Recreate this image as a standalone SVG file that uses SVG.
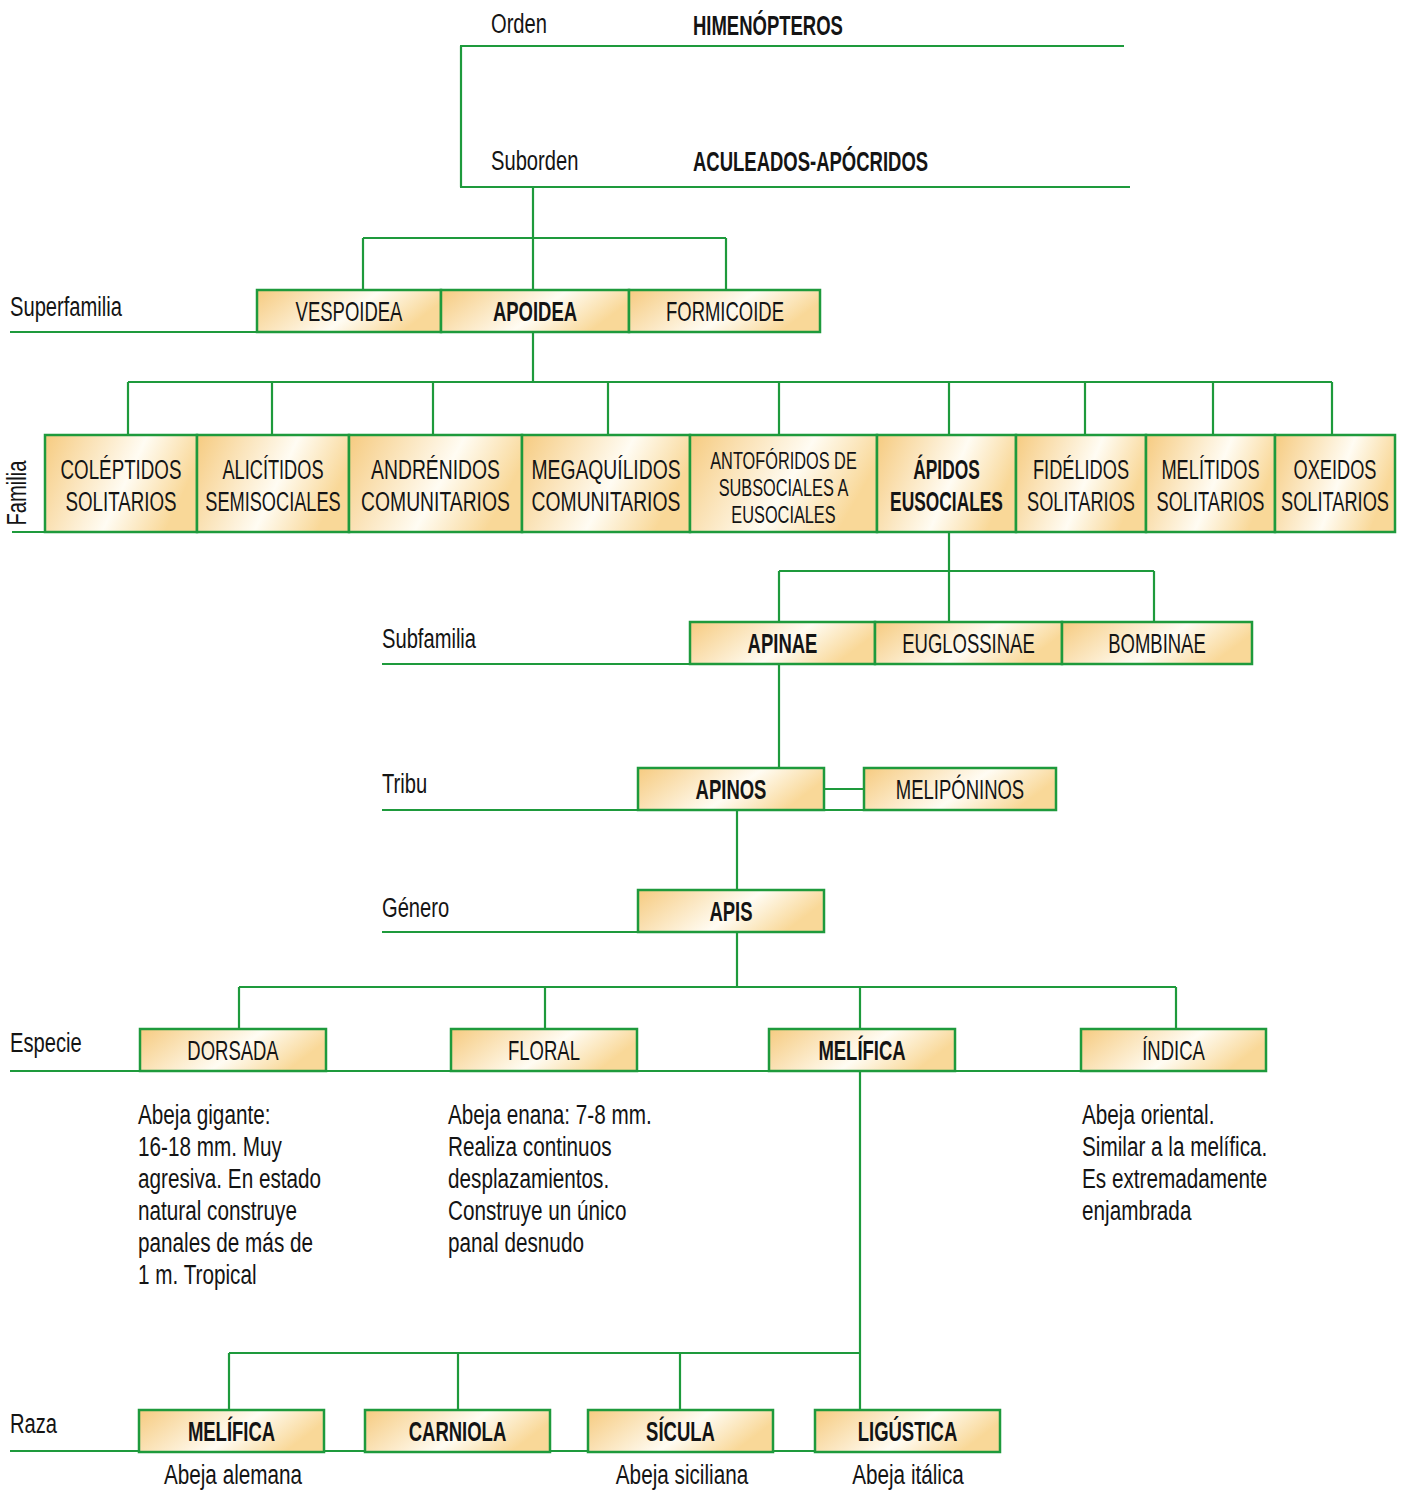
<svg xmlns="http://www.w3.org/2000/svg" width="1401" height="1500" viewBox="0 0 1401 1500">
<defs>
<linearGradient id="g" x1="0" y1="0" x2="1" y2="0.3">
<stop offset="0" stop-color="#f6cb80"/>
<stop offset="0.62" stop-color="#fffcf3"/>
<stop offset="1" stop-color="#f9d898"/>
</linearGradient>
</defs>
<style>
.box{fill:url(#g);stroke:#1e9a3c;stroke-width:2.5}
.ln{fill:none;stroke:#1e9a3c;stroke-width:2.2}
text{font-family:"Liberation Sans",Arial,sans-serif;font-size:28px;fill:#141414}
.c{text-anchor:middle}
.b{font-weight:bold}
.s{font-size:24px}
</style>
<g id="connectors" class="ln">
<path d="M460,46H1124M461,46V187M460,187H1130"/>
<path d="M533,187V290M363,238H726M363,238V290M726,238V290"/>
<path d="M10,332H257"/>
<path d="M533,332V382M128,382H1332M128,382V435M272,382V435M433,382V435M608,382V435M779,382V435M949,382V435M1085,382V435M1213,382V435M1332,382V435"/>
<path d="M12,532H45"/>
<path d="M949,532V571M779,571H1154M779,571V622M949,571V622M1154,571V622"/>
<path d="M382,664H690"/>
<path d="M779,664V768"/>
<path d="M382,810H1056M824,789H864"/>
<path d="M737,810V890"/>
<path d="M382,932H638"/>
<path d="M737,932V987M239,987H1176M239,987V1029M545,987V1029M860,987V1029M1176,987V1029"/>
<path d="M10,1071H1266"/>
<path d="M860,1071V1410M229,1353H860M229,1353V1410M458,1353V1410M680,1353V1410"/>
<path d="M10,1451H1000"/>
</g>
<g id="labels">
<text transform="translate(491,33) scale(0.72,1)">Orden</text>
<text class="b" transform="translate(693,35) scale(0.66,1)">HIMENÓPTEROS</text>
<text transform="translate(491,170) scale(0.72,1)">Suborden</text>
<text class="b" transform="translate(693,171) scale(0.66,1)">ACULEADOS-APÓCRIDOS</text>
<text transform="translate(10,316) scale(0.72,1)">Superfamilia</text>
<text transform="translate(26,493) rotate(-90) scale(0.72,1)" class="c">Familia</text>
<text transform="translate(382,648) scale(0.72,1)">Subfamilia</text>
<text transform="translate(382,793) scale(0.72,1)">Tribu</text>
<text transform="translate(382,917) scale(0.72,1)">Género</text>
<text transform="translate(10,1052) scale(0.72,1)">Especie</text>
<text transform="translate(10,1433) scale(0.72,1)">Raza</text>
</g>
<g id="n-vespoidea"><rect class="box" x="257" y="290" width="184" height="42"/><text class="c" transform="translate(349,321) scale(0.66,1)">VESPOIDEA</text></g>
<g id="n-apoidea"><rect class="box" x="441" y="290" width="188" height="42"/><text class="c b" transform="translate(535,321) scale(0.66,1)">APOIDEA</text></g>
<g id="n-formicoide"><rect class="box" x="629" y="290" width="191" height="42"/><text class="c" transform="translate(725,321) scale(0.66,1)">FORMICOIDE</text></g>

<g id="n-colep"><rect class="box" x="45" y="435" width="152" height="97"/><text class="c" transform="translate(121,479) scale(0.67,1)">COLÉPTIDOS<tspan x="0" dy="32">SOLITARIOS</tspan></text></g>
<g id="n-alicit"><rect class="box" x="197" y="435" width="152" height="97"/><text class="c" transform="translate(273,479) scale(0.65,1)">ALICÍTIDOS<tspan x="0" dy="32">SEMISOCIALES</tspan></text></g>
<g id="n-andren"><rect class="box" x="349" y="435" width="173" height="97"/><text class="c" transform="translate(435.5,479) scale(0.69,1)">ANDRÉNIDOS<tspan x="0" dy="32">COMUNITARIOS</tspan></text></g>
<g id="n-megaq"><rect class="box" x="522" y="435" width="168" height="97"/><text class="c" transform="translate(606,479) scale(0.69,1)">MEGAQUÍLIDOS<tspan x="0" dy="32">COMUNITARIOS</tspan></text></g>
<g id="n-antof"><rect class="box" x="690" y="435" width="187" height="97"/><text class="c s" transform="translate(783.5,469) scale(0.68,1)">ANTOFÓRIDOS DE<tspan x="0" dy="27">SUBSOCIALES A</tspan><tspan x="0" dy="27">EUSOCIALES</tspan></text></g>
<g id="n-apidos"><rect class="box" x="877" y="435" width="139" height="97"/><text class="c b" transform="translate(946.5,479) scale(0.62,1)">ÁPIDOS<tspan x="0" dy="32">EUSOCIALES</tspan></text></g>
<g id="n-fidel"><rect class="box" x="1016" y="435" width="130" height="97"/><text class="c" transform="translate(1081,479) scale(0.65,1)">FIDÉLIDOS<tspan x="0" dy="32">SOLITARIOS</tspan></text></g>
<g id="n-melit"><rect class="box" x="1146" y="435" width="129" height="97"/><text class="c" transform="translate(1210.5,479) scale(0.65,1)">MELÍTIDOS<tspan x="0" dy="32">SOLITARIOS</tspan></text></g>
<g id="n-oxeid"><rect class="box" x="1275" y="435" width="120" height="97"/><text class="c" transform="translate(1335,479) scale(0.65,1)">OXEIDOS<tspan x="0" dy="32">SOLITARIOS</tspan></text></g>

<g id="n-apinae"><rect class="box" x="690" y="622" width="185" height="42"/><text class="c b" transform="translate(782.5,653) scale(0.66,1)">APINAE</text></g>
<g id="n-eugl"><rect class="box" x="875" y="622" width="187" height="42"/><text class="c" transform="translate(968.5,653) scale(0.66,1)">EUGLOSSINAE</text></g>
<g id="n-bomb"><rect class="box" x="1062" y="622" width="190" height="42"/><text class="c" transform="translate(1157,653) scale(0.66,1)">BOMBINAE</text></g>

<g id="n-apinos"><rect class="box" x="638" y="768" width="186" height="42"/><text class="c b" transform="translate(731,799) scale(0.66,1)">APINOS</text></g>
<g id="n-melip"><rect class="box" x="864" y="768" width="192" height="42"/><text class="c" transform="translate(960,799) scale(0.66,1)">MELIPÓNINOS</text></g>

<g id="n-apis"><rect class="box" x="638" y="890" width="186" height="42"/><text class="c b" transform="translate(731,921) scale(0.66,1)">APIS</text></g>

<g id="n-dorsada"><rect class="box" x="140" y="1029" width="186" height="42"/><text class="c" transform="translate(233,1060) scale(0.66,1)">DORSADA</text>
<text transform="translate(138,1124) scale(0.74,1)">Abeja gigante:<tspan x="0" dy="32">16-18 mm. Muy</tspan><tspan x="0" dy="32">agresiva. En estado</tspan><tspan x="0" dy="32">natural construye</tspan><tspan x="0" dy="32">panales de más de</tspan><tspan x="0" dy="32">1 m. Tropical</tspan></text></g>
<g id="n-floral"><rect class="box" x="451" y="1029" width="186" height="42"/><text class="c" transform="translate(544,1060) scale(0.66,1)">FLORAL</text>
<text transform="translate(448,1124) scale(0.74,1)">Abeja enana: 7-8 mm.<tspan x="0" dy="32">Realiza continuos</tspan><tspan x="0" dy="32">desplazamientos.</tspan><tspan x="0" dy="32">Construye un único</tspan><tspan x="0" dy="32">panal desnudo</tspan></text></g>
<g id="n-melifica"><rect class="box" x="769" y="1029" width="186" height="42"/><text class="c b" transform="translate(862,1060) scale(0.66,1)">MELÍFICA</text></g>
<g id="n-indica"><rect class="box" x="1081" y="1029" width="185" height="42"/><text class="c" transform="translate(1173.5,1060) scale(0.66,1)">ÍNDICA</text>
<text transform="translate(1082,1124) scale(0.74,1)">Abeja oriental.<tspan x="0" dy="32">Similar a la melífica.</tspan><tspan x="0" dy="32">Es extremadamente</tspan><tspan x="0" dy="32">enjambrada</tspan></text></g>

<g id="n-r-melifica"><rect class="box" x="139" y="1410" width="185" height="42"/><text class="c b" transform="translate(231.5,1441) scale(0.66,1)">MELÍFICA</text><text class="c" transform="translate(233,1484) scale(0.74,1)">Abeja alemana</text></g>
<g id="n-carniola"><rect class="box" x="365" y="1410" width="185" height="42"/><text class="c b" transform="translate(457.5,1441) scale(0.66,1)">CARNIOLA</text></g>
<g id="n-sicula"><rect class="box" x="588" y="1410" width="185" height="42"/><text class="c b" transform="translate(680.5,1441) scale(0.66,1)">SÍCULA</text><text class="c" transform="translate(682,1484) scale(0.74,1)">Abeja siciliana</text></g>
<g id="n-ligustica"><rect class="box" x="815" y="1410" width="185" height="42"/><text class="c b" transform="translate(907.5,1441) scale(0.66,1)">LIGÚSTICA</text><text class="c" transform="translate(908,1484) scale(0.74,1)">Abeja itálica</text></g>
</svg>
